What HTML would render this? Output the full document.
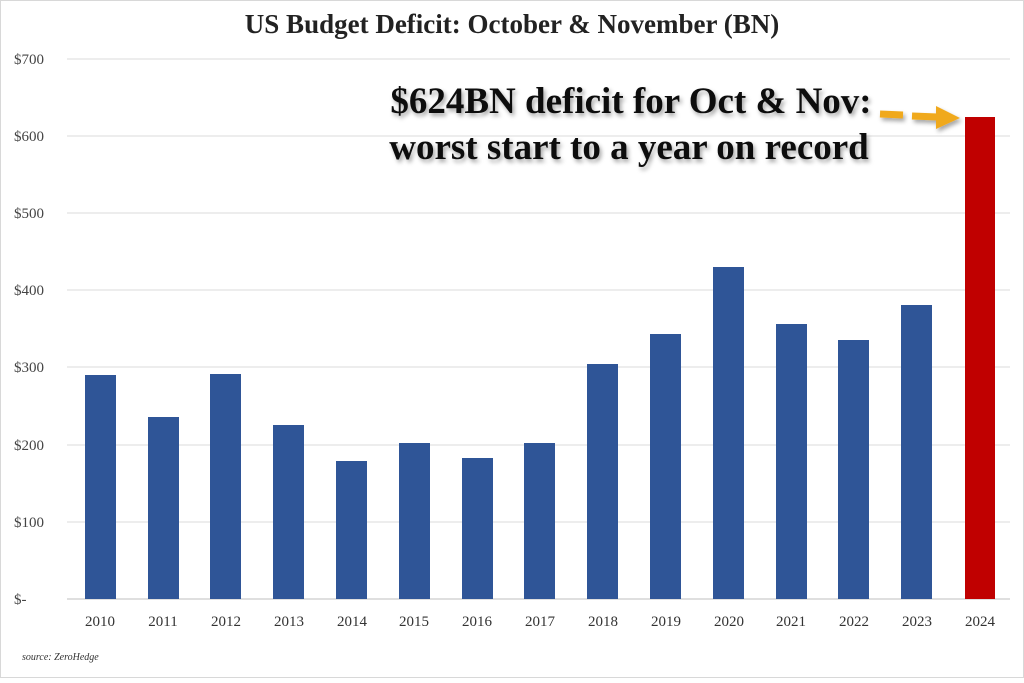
<!DOCTYPE html><html><head><style>body{margin:0;background:#fff}</style></head><body>
<svg width="1024" height="678" xmlns="http://www.w3.org/2000/svg" font-family="Liberation Serif, serif">
<rect x="0.5" y="0.5" width="1023" height="677" fill="#fff" stroke="#d8d8d8"/>
<text x="512" y="33" text-anchor="middle" font-size="27" font-weight="bold" fill="#222">US Budget Deficit: October &amp; November (BN)</text>
<g stroke="#e2e2e2" stroke-width="1.3">
<line x1="67" x2="1010" y1="59" y2="59"/><line x1="67" x2="1010" y1="136" y2="136"/><line x1="67" x2="1010" y1="213" y2="213"/><line x1="67" x2="1010" y1="290" y2="290"/><line x1="67" x2="1010" y1="367" y2="367"/><line x1="67" x2="1010" y1="445" y2="445"/><line x1="67" x2="1010" y1="522" y2="522"/></g>
<line x1="67" x2="1010" y1="599" y2="599" stroke="#ccc" stroke-width="1.3"/>
<g font-size="15" fill="#444" text-anchor="start">
<text x="14" y="64">$700</text><text x="14" y="141">$600</text><text x="14" y="218">$500</text><text x="14" y="295">$400</text><text x="14" y="372">$300</text><text x="14" y="450">$200</text><text x="14" y="527">$100</text><text x="14" y="604">$-</text></g>
<g fill="#2f5597">
<rect x="85" y="375" width="31" height="224"/><rect x="148" y="417" width="31" height="182"/><rect x="210" y="374" width="31" height="225"/><rect x="273" y="425" width="31" height="174"/><rect x="336" y="461" width="31" height="138"/><rect x="399" y="443" width="31" height="156"/><rect x="462" y="458" width="31" height="141"/><rect x="524" y="443" width="31" height="156"/><rect x="587" y="364" width="31" height="235"/><rect x="650" y="334" width="31" height="265"/><rect x="713" y="267" width="31" height="332"/><rect x="776" y="324" width="31" height="275"/><rect x="838" y="340" width="31" height="259"/><rect x="901" y="305" width="31" height="294"/></g>
<rect x="965" y="117" width="30" height="482" fill="#c00000"/>
<g font-size="15" fill="#333" text-anchor="middle">
<text x="100" y="626">2010</text><text x="163" y="626">2011</text><text x="226" y="626">2012</text><text x="289" y="626">2013</text><text x="352" y="626">2014</text><text x="414" y="626">2015</text><text x="477" y="626">2016</text><text x="540" y="626">2017</text><text x="603" y="626">2018</text><text x="666" y="626">2019</text><text x="729" y="626">2020</text><text x="791" y="626">2021</text><text x="854" y="626">2022</text><text x="917" y="626">2023</text><text x="980" y="626">2024</text></g>
<text x="22" y="660" font-size="10" font-style="italic" fill="#333">source: ZeroHedge</text>
<defs><filter id="s" x="-5%" y="-20%" width="110%" height="150%"><feDropShadow dx="2" dy="3" stdDeviation="2" flood-color="#000" flood-opacity="0.35"/></filter></defs>
<g font-size="37" font-weight="bold" fill="#111" text-anchor="middle" filter="url(#s)">
<text x="631" y="113">$624BN deficit for Oct &amp; Nov:</text>
<text x="629" y="159">worst start to a year on record</text></g>
<g stroke="#f0a91e" stroke-width="7" filter="url(#s)">
<line x1="880" y1="114" x2="903" y2="115"/><line x1="912" y1="116" x2="938" y2="117"/>
<polygon points="936,106 960,118 936,129" fill="#f0a91e" stroke="none"/></g>
</svg></body></html>
